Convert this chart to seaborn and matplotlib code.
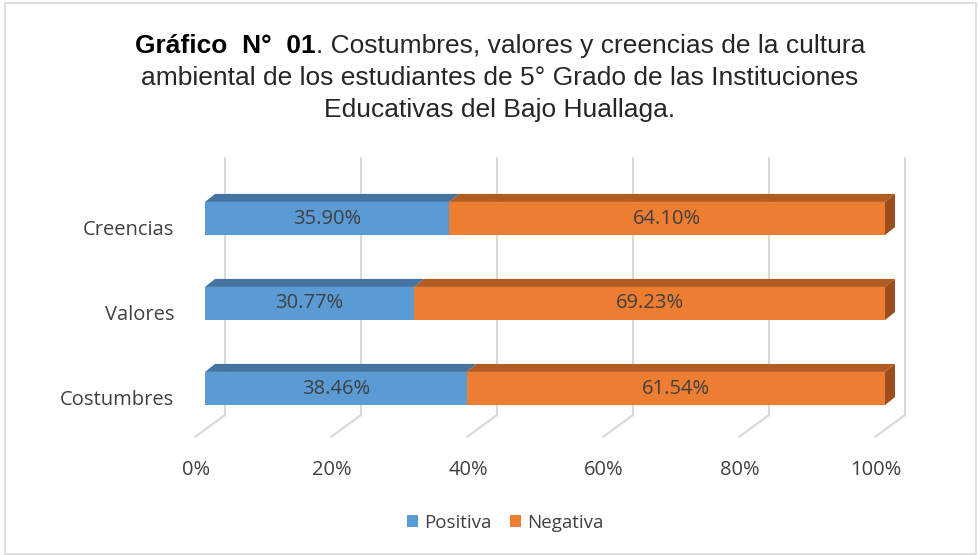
import matplotlib
matplotlib.use("Agg")
import matplotlib.pyplot as plt
import matplotlib.transforms as mtransforms
from matplotlib.patches import Polygon, Rectangle, Patch
from matplotlib.lines import Line2D
import seaborn as sns
import pandas as pd

categories = ["Creencias", "Valores", "Costumbres"]
positiva = [35.90, 30.77, 38.46]
negativa = [64.10, 69.23, 61.54]
series_names = ["Positiva", "Negativa"]
xtick_labels = ["0%", "20%", "40%", "60%", "80%", "100%"]

BLUE = "#5B9BD5"
ORANGE = "#ED7D31"
BLUE_TOP = "#4674A0"
ORANGE_TOP = "#B25C23"
ORANGE_SIDE = "#9C4F1C"
GRID = "#D9D9D9"
TXT = "#404040"

W, H = 979, 555
DPI = 100
sns.set_theme(style="white")
plt.rcParams["font.family"] = ["Open Sans", "DejaVu Sans"]

fig = plt.figure(figsize=(W / DPI, H / DPI), dpi=DPI)
fig.patch.set_facecolor("white")

# axes placement in pixels (front plane of the bars)
ax_l, ax_r, ax_t, ax_b = 205, 885, 176, 431
ax = fig.add_axes([ax_l / W, 1 - ax_b / H, (ax_r - ax_l) / W, (ax_b - ax_t) / H])
ax.set_facecolor("none")

df = pd.DataFrame({"cat": categories,
                   "pos": [p / 100 for p in positiva],
                   "neg": [n / 100 for n in negativa]})
df["total"] = df["pos"] + df["neg"]

bw = 0.39
sns.barplot(data=df, x="total", y="cat", color=ORANGE, width=bw, ax=ax,
            saturation=1, edgecolor="none", order=categories)
sns.barplot(data=df, x="pos", y="cat", color=BLUE, width=bw, ax=ax,
            saturation=1, edgecolor="none", order=categories)

ax.set_xlim(0, 1)
ax.set_ylim(2.5, -0.5)
ax.set_xlabel("")
ax.set_ylabel("")
for s in ax.spines.values():
    s.set_visible(False)
ax.set_xticks([i / 5 for i in range(6)])
ax.set_xticklabels(xtick_labels, fontsize=14.5, color=TXT)
ax.tick_params(axis="x", length=0, pad=21)
ax.tick_params(axis="y", length=0, pad=22, labelsize=14.5, labelcolor=TXT)
for lab in ax.get_xticklabels():
    lab.set_transform(lab.get_transform() + mtransforms.ScaledTranslation(-9 / DPI, 0, fig.dpi_scale_trans))
for lab in ax.get_yticklabels():
    lab.set_transform(lab.get_transform() + mtransforms.ScaledTranslation(0, -9 / DPI, fig.dpi_scale_trans))

ident = mtransforms.IdentityTransform()
def py(yimg):
    return H - yimg

# gridlines with 3D depth (back plane shifted right, floor diagonals)
for xt in ax.get_xticks():
    xd = ax.transData.transform((xt, 0))[0]
    fig.add_artist(Line2D([xd + 20, xd + 20], [py(158), py(415)], color=GRID, lw=1.5,
                          transform=ident, zorder=0))
    fig.add_artist(Line2D([xd + 20, xd - 10], [py(415), py(437)], color=GRID, lw=1.5,
                          transform=ident, zorder=0))

# 3D faces for bars
dx, dy = 10, 8
patches = list(ax.patches)
n = len(categories)
orange_p = patches[:n]
blue_p = patches[n:]
for bp, op in zip(blue_p, orange_p):
    (x0, y0), (x1, y1) = ax.transData.transform([(bp.get_x(), bp.get_y()),
                                                 (bp.get_x() + bp.get_width(), bp.get_y() + bp.get_height())])
    (ox0, _), (ox1, _) = ax.transData.transform([(op.get_x(), 0),
                                                 (op.get_x() + op.get_width(), 0)])
    top = max(y0, y1)
    bot = min(y0, y1)
    ax.add_patch(Polygon([(x0, top), (x1, top), (x1 + dx, top + dy), (x0 + dx, top + dy)],
                         closed=True, facecolor=BLUE_TOP, edgecolor="none",
                         transform=ident, clip_on=False))
    ax.add_patch(Polygon([(x1, top), (ox1, top), (ox1 + dx, top + dy), (x1 + dx, top + dy)],
                         closed=True, facecolor=ORANGE_TOP, edgecolor="none",
                         transform=ident, clip_on=False))
    ax.add_patch(Polygon([(ox1, bot), (ox1, top), (ox1 + dx, top + dy), (ox1 + dx, bot + dy)],
                         closed=True, facecolor=ORANGE_SIDE, edgecolor="none",
                         transform=ident, clip_on=False))

# data labels
for i, c in enumerate(categories):
    p = df.loc[i, "pos"]
    t = df.loc[i, "total"]
    ax.text(p / 2, i, f"{positiva[i]:.2f}%", ha="center", va="center", fontsize=14.5, color=TXT)
    ax.text(p + (t - p) / 2, i, f"{negativa[i]:.2f}%", ha="center", va="center", fontsize=14.5, color=TXT)

# legend
handles = [Patch(facecolor=BLUE, edgecolor="none"), Patch(facecolor=ORANGE, edgecolor="none")]
fig.legend(handles, series_names, loc="center", bbox_to_anchor=(505 / W, 1 - 523 / H),
           ncol=2, frameon=False, fontsize=13.5, handlelength=0.6, handleheight=0.6,
           handletextpad=0.3, columnspacing=1.0, labelcolor=TXT)

# title
tfont = ["Liberation Sans", "DejaVu Sans"]
tsize = 19
renderer = fig.canvas.get_renderer()
bold_part = "Gráfico  N°  01"
rest_part = ". Costumbres, valores y creencias de la cultura"
tb = fig.text(0, 0, bold_part, fontsize=tsize, family=tfont, weight="bold", color="black")
tr = fig.text(0, 0, rest_part, fontsize=tsize, family=tfont, color="#262626")
wb = tb.get_window_extent(renderer).width
wr = tr.get_window_extent(renderer).width
cx = 500
start = cx - (wb + wr) / 2
tb.set_transform(ident); tr.set_transform(ident)
tb.set_position((start, py(46))); tb.set_va("center")
tr.set_position((start + wb, py(46))); tr.set_va("center")
fig.text(cx / W, 1 - 78 / H, "ambiental de los estudiantes de 5° Grado de las Instituciones",
         fontsize=tsize, family=tfont, ha="center", va="center", color="#262626")
fig.text(cx / W, 1 - 110 / H, "Educativas del Bajo Huallaga.",
         fontsize=tsize, family=tfont, ha="center", va="center", color="#262626")

# outer frame
fig.add_artist(Rectangle((5 / W, 1 / H), (W - 8) / W, (H - 4) / H, transform=fig.transFigure,
                         fill=False, edgecolor="#D9D9D9", lw=1.2))

fig.savefig("out.png", dpi=DPI)
